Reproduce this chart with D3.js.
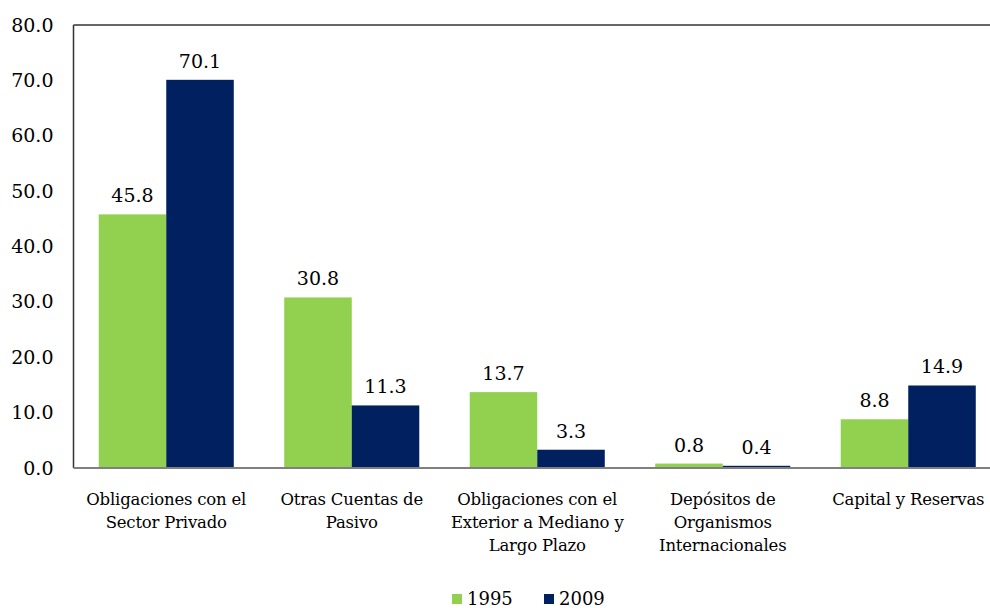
<!DOCTYPE html>
<html>
<head>
<meta charset="utf-8">
<script src="https://cdn.jsdelivr.net/npm/d3@7"></script>
<style>
  html, body { margin: 0; padding: 0; background: #fff; }
  svg { display: block; font-family: "DejaVu Serif", "Liberation Serif", serif; }
</style>
</head>
<body>
<svg id="chart" width="990" height="608"></svg>
<script>
// Categories (label lines) and series values
const categories = [
  ["Obligaciones con el", "Sector Privado"],
  ["Otras Cuentas de", "Pasivo"],
  ["Obligaciones con el", "Exterior a Mediano y", "Largo Plazo"],
  ["Depósitos de", "Organismos", "Internacionales"],
  ["Capital y Reservas"]
];
const seriesNames = ["1995", "2009"];
const values1995 = [45.8, 30.8, 13.7, 0.8, 8.8];
const values2009 = [70.1, 11.3, 3.3, 0.4, 14.9];
const yTicks = [0, 10, 20, 30, 40, 50, 60, 70, 80];
const colors = ["#92D050", "#002060"];

const svg = d3.select("#chart");
const margin = { left: 73.5, top: 25 };
const plotRight = 1001;
const baseline = 468;

const x0 = d3.scaleBand()
  .domain(d3.range(categories.length))
  .range([margin.left, plotRight])
  .paddingInner(0.272)
  .paddingOuter(0.136);
const x1 = d3.scaleBand().domain([0, 1]).range([0, x0.bandwidth()]);
const y = d3.scaleLinear().domain([0, 80]).range([baseline, margin.top]);

// Bars and their value labels
const series = [values1995, values2009];
series.forEach((vals, s) => {
  svg.append("g").selectAll("rect")
    .data(vals)
    .join("rect")
    .attr("x", (d, i) => x0(i) + x1(s))
    .attr("y", d => y(d))
    .attr("width", x1.bandwidth())
    .attr("height", d => baseline - y(d))
    .attr("fill", colors[s]);

  svg.append("g").selectAll("text")
    .data(vals)
    .join("text")
    .attr("x", (d, i) => x0(i) + x1(s) + x1.bandwidth() / 2)
    .attr("y", d => y(d) - 12)
    .attr("text-anchor", "middle")
    .attr("font-size", 19)
    .attr("fill", "#000")
    .text(d => d.toFixed(1));
});

// Frame lines: left and top dark
svg.append("line")
  .attr("x1", margin.left).attr("x2", margin.left)
  .attr("y1", margin.top).attr("y2", baseline)
  .attr("stroke", "#333").attr("stroke-width", 1.5);
svg.append("line")
  .attr("x1", margin.left).attr("x2", 990)
  .attr("y1", margin.top).attr("y2", margin.top)
  .attr("stroke", "#333").attr("stroke-width", 1.5);

// Y axis labels
const yAxis = d3.axisLeft(y).tickValues(yTicks).tickFormat(d3.format(".1f")).tickSize(0).tickPadding(20);
const gy = svg.append("g").attr("transform", `translate(${margin.left},0)`).call(yAxis);
gy.select(".domain").remove();
gy.selectAll("text")
  .attr("font-family", "DejaVu Serif, serif")
  .attr("font-size", 19)
  .attr("fill", "#000");

// Baseline
svg.append("line")
  .attr("x1", margin.left).attr("x2", 990)
  .attr("y1", baseline).attr("y2", baseline)
  .attr("stroke", "#808080").attr("stroke-width", 2);

// Category labels
const catG = svg.append("g").selectAll("text")
  .data(categories)
  .join("text")
  .attr("x", (d, i) => x0(i) + x0.bandwidth() / 2)
  .attr("y", 505)
  .attr("text-anchor", "middle")
  .attr("font-size", 16.5)
  .attr("letter-spacing", -0.2)
  .attr("fill", "#000");
catG.each(function(lines) {
  const t = d3.select(this);
  lines.forEach((line, k) => {
    t.append("tspan")
      .attr("x", t.attr("x"))
      .attr("dy", k === 0 ? 0 : 23)
      .text(line);
  });
});

// Legend
const legend = svg.append("g");
const legendX = [452, 544];
seriesNames.forEach((name, s) => {
  legend.append("rect")
    .attr("x", legendX[s]).attr("y", 594)
    .attr("width", 10).attr("height", 10)
    .attr("fill", colors[s]);
  legend.append("text")
    .attr("x", legendX[s] + 15).attr("y", 605)
    .attr("font-size", 18)
    .attr("fill", "#000")
    .text(name);
});
</script>
</body>
</html>
